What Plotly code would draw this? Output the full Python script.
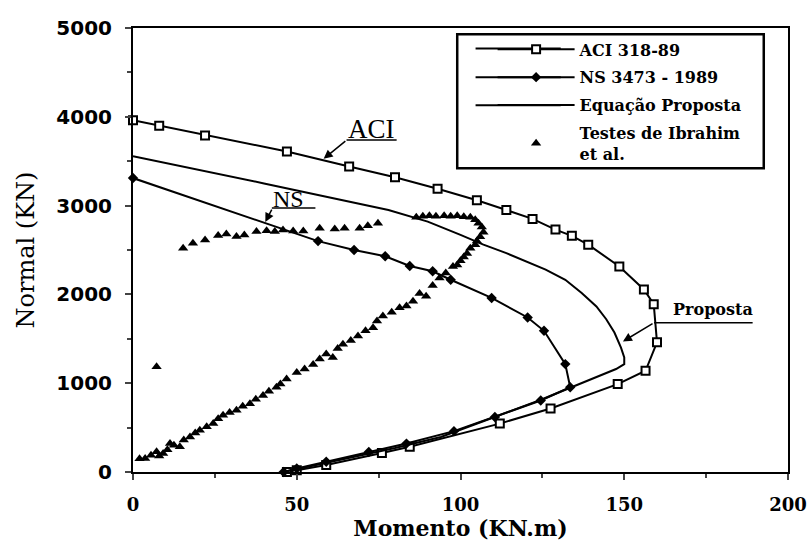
import plotly.graph_objects as go

# ---- data (Momento kN.m, Normal kN) ----
aci_m = [0, 8, 22, 47, 66, 80, 93, 105, 114, 122, 129, 134, 139, 148.5, 156, 159, 160, 156.5, 148, 127.5, 112, 84.5, 76, 59, 50, 47]
aci_n = [3960, 3900, 3790, 3610, 3440, 3320, 3190, 3060, 2950, 2850, 2730, 2660, 2560, 2315, 2055, 1890, 1460, 1140, 990, 715, 545, 285, 215, 80, 20, 0]

ns_m = [0, 56.5, 67.5, 77, 84.5, 91.5, 97, 109.5, 120.5, 125.5, 132, 133.5, 124.5, 110.5, 98, 83.5, 72, 59, 50, 46]
ns_n = [3310, 2600, 2500, 2430, 2320, 2260, 2165, 1960, 1740, 1590, 1215, 955, 805, 620, 460, 320, 225, 115, 40, 0]

prop_m = [0, 40, 78, 90, 100, 107, 114, 120, 126, 132, 137, 141.5, 144.5, 147, 149, 150, 150, 147.5, 134, 124, 109, 94, 80, 65, 55, 46]
prop_n = [3555, 3250, 2950, 2820, 2670, 2560, 2465, 2370, 2280, 2165, 2015, 1865, 1720, 1570, 1400, 1290, 1215, 1160, 955, 805, 600, 395, 270, 150, 70, 0]

test_m = [15.3, 18.3, 22, 26, 28.5, 31.6, 34, 37.7, 40.8, 43.3, 45.8, 48.9, 52, 57, 61.6, 64.6, 69.2, 71.7, 74.8,
          86.5, 88.5, 90.5, 92.5, 95, 97, 99, 101, 103, 104.5, 105.5, 106.5, 107, 106, 105, 104.5, 103, 102, 101, 100, 99,
          97.7, 95.5, 93.6, 91.5, 89.5, 87.5, 85.5, 83.5, 81.4, 79, 76.3, 74.5, 73.3, 71, 68.7, 66.5, 64.1, 62.5, 61, 59,
          57, 55, 52.4, 50, 46.9, 45, 43.8, 41.5, 39.7, 37.5, 35.7, 33.5, 31.6, 29.5, 27.5, 26, 24.5, 22.5, 20.4, 19,
          17.4, 15.5, 14.3, 12.5, 11.3, 10.5, 9.2, 8, 7.2, 5.5, 3.7, 2, 7.2]
test_n = [2520, 2576, 2614, 2662, 2681, 2651, 2670, 2707, 2718, 2707, 2726, 2715, 2715, 2744, 2737, 2744, 2744, 2773, 2800,
          2870, 2880, 2885, 2880, 2885, 2880, 2885, 2875, 2870, 2840, 2800, 2760, 2700, 2650, 2600, 2560, 2520, 2460, 2420, 2380, 2330,
          2315, 2240, 2185, 2100, 1980, 2010, 1924, 1870, 1849, 1800, 1756, 1700, 1625, 1590, 1532, 1480, 1440, 1390, 1290, 1330,
          1272, 1210, 1160, 1120, 1048, 990, 954, 910, 861, 820, 768, 740, 694, 670, 638, 600, 545, 510, 470, 440,
          395, 360, 283, 300, 321, 250, 209, 180, 227, 190, 153, 150, 1186]

x_ticks = [0, 50, 100, 150, 200]
y_ticks = [0, 1000, 2000, 3000, 4000, 5000]

SERIF = "DejaVu Serif, serif"
TIMES = "Liberation Serif, Times New Roman, serif"
SANS = "DejaVu Sans, sans-serif"

fig = go.Figure()
fig.add_trace(go.Scatter(x=aci_m, y=aci_n, mode="lines+markers", name="ACI 318-89",
                         line=dict(color="black", width=2),
                         marker=dict(symbol="square", size=8, color="white", line=dict(color="black", width=2)),
                         cliponaxis=False, legendgroup="a"))
fig.add_trace(go.Scatter(x=ns_m, y=ns_n, mode="lines+markers", name="NS 3473 - 1989",
                         line=dict(color="black", width=2),
                         marker=dict(symbol="diamond", size=8, color="black"),
                         cliponaxis=False, legendgroup="b"))
fig.add_trace(go.Scatter(x=prop_m, y=prop_n, mode="lines", name="Equação Proposta",
                         line=dict(color="black", width=2), cliponaxis=False, legendgroup="c"))
fig.add_trace(go.Scatter(x=test_m, y=test_n, mode="markers", name="Testes de Ibrahim<br>et al.",
                         marker=dict(symbol="triangle-up", size=9, color="black"),
                         cliponaxis=False, legendgroup="d"))

annotations = [
    dict(x=72.8, y=3860, text="ACI", showarrow=False, font=dict(family=TIMES, size=27, color="black")),
    dict(x=58.2, y=3527, ax=65.3, ay=3740, axref="x", ayref="y", text="", showarrow=True,
         arrowhead=2, arrowsize=1.2, arrowwidth=1.5, arrowcolor="black"),
    dict(x=47.4, y=3075, text="NS", showarrow=False, font=dict(family=TIMES, size=24, color="black")),
    dict(x=40.4, y=2815, ax=42.6, ay=2972, axref="x", ayref="y", text="", showarrow=True,
         arrowhead=2, arrowsize=1.2, arrowwidth=1.5, arrowcolor="black"),
    dict(x=177.2, y=1830, text="<b>Proposta</b>", showarrow=False, font=dict(family=SERIF, size=16, color="black")),
    dict(x=149.6, y=1470, ax=159.1, ay=1681, axref="x", ayref="y", text="", showarrow=True,
         arrowhead=2, arrowsize=1.2, arrowwidth=1.5, arrowcolor="black"),
]
shapes = [
    dict(type="line", x0=65.2, x1=80.5, y0=3740, y1=3740, line=dict(color="black", width=1.5)),
    dict(type="line", x0=42.4, x1=55.7, y0=2972, y1=2972, line=dict(color="black", width=1.5)),
    dict(type="line", x0=159.1, x1=189.2, y0=1681, y1=1681, line=dict(color="black", width=1.5)),
    dict(type="rect", xref="paper", yref="paper", x0=0.495, x1=0.963, y0=0.684, y1=0.986,
         line=dict(color="black", width=2.5), fillcolor="rgba(0,0,0,0)"),
]
# longer legend line samples, as in the original legend
for ly in (0.954, 0.889, 0.826):
    shapes.append(dict(type="line", xref="paper", yref="paper", x0=0.523, x1=0.653, y0=ly, y1=ly,
                       line=dict(color="black", width=2)))

fig.update_layout(
    width=810, height=547,
    margin=dict(l=133, r=22, t=28, b=75),
    paper_bgcolor="white", plot_bgcolor="white",
    showlegend=True,
    legend=dict(x=0.549, y=0.99, xanchor="left", yanchor="top",
                font=dict(family=SERIF, size=16, color="black", weight="bold"),
                bgcolor="rgba(0,0,0,0)", borderwidth=0, itemwidth=77,
                traceorder="grouped", tracegroupgap=4),
    annotations=annotations, shapes=shapes,
    xaxis=dict(range=[0, 200], tickvals=x_ticks, ticks="outside", ticklen=6, tickwidth=1.5,
               showline=True, linewidth=2, linecolor="black", mirror=True, automargin=False,
               showgrid=False, zeroline=False, ticklabelstandoff=9,
               minor=dict(dtick=25, ticks="outside", ticklen=4, tickwidth=1.5, showgrid=False),
               tickfont=dict(family=SERIF, size=18, color="black", weight="bold"),
               title=dict(text="<b>Momento (KN.m)</b>", font=dict(family=SERIF, size=22, color="black"), standoff=6)),
    yaxis=dict(range=[0, 5000], tickvals=y_ticks, ticks="outside", ticklen=6, tickwidth=1.5,
               showline=True, linewidth=2, linecolor="black", mirror=True, automargin=False,
               showgrid=False, zeroline=False, ticklabelstandoff=9,
               minor=dict(dtick=500, ticks="outside", ticklen=4, tickwidth=1.5, showgrid=False),
               tickfont=dict(family=SANS, size=20, color="black", weight="bold"),
               title=dict(text="Normal (KN)", font=dict(family=SERIF, size=24, color="black"), standoff=15)),
)

fig.write_html("out.html")
